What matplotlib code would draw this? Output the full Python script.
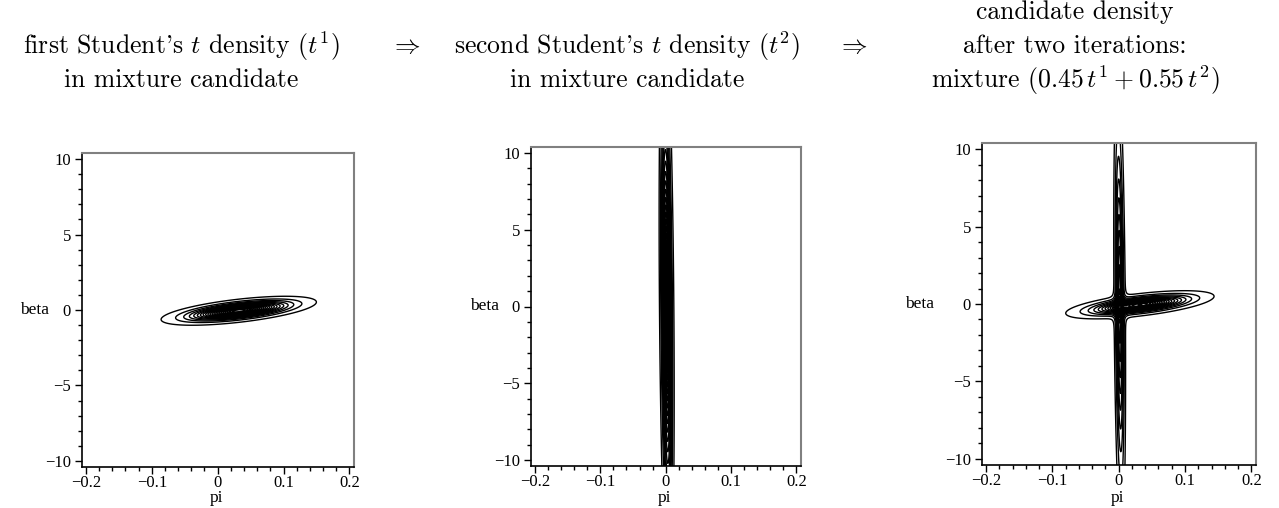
import numpy as np
import matplotlib
matplotlib.use('Agg')
import matplotlib.pyplot as plt
from matplotlib.ticker import MultipleLocator, FuncFormatter

plt.rcParams['mathtext.fontset'] = 'cm'

# parameters of the two Student's t components (pi, beta)
t1_mean = [0.032, -0.05]
t1_sd = [0.043, 0.35]
t1_rho = 0.6
t1_df = 3

t2_mean = [0.0015, 0.0]
t2_sd = [0.0042, 7.0]
t2_rho = -0.3
t2_df = 3

weights = [0.45, 0.55]

titles = [
    "first Student's $t$ density $(t^1)$\nin mixture candidate",
    "second Student's $t$ density $(t^2)$\nin mixture candidate",
    "candidate density\nafter two iterations:\nmixture $(0.45\\,t^1 + 0.55\\,t^2)$",
]
xticks = [-0.2, -0.1, 0, 0.1, 0.2]
yticks = [-10, -5, 0, 5, 10]


def tdens(P, B, mean, sd, rho, df):
    u = (P - mean[0]) / sd[0]
    v = (B - mean[1]) / sd[1]
    d2 = (u * u - 2 * rho * u * v + v * v) / (1 - rho ** 2)
    det = sd[0] * sd[1] * np.sqrt(1 - rho ** 2)
    return (1 + d2 / df) ** (-(df + 2) / 2) / (2 * np.pi * det)


p = np.linspace(-0.21, 0.21, 1400)
b = np.linspace(-10.5, 10.5, 900)
P, B = np.meshgrid(p, b)
Z1 = tdens(P, B, t1_mean, t1_sd, t1_rho, t1_df)
Z2 = tdens(P, B, t2_mean, t2_sd, t2_rho, t2_df)
Zm = weights[0] * Z1 + weights[1] * Z2

W, H = 1279, 508
fig = plt.figure(figsize=(W / 100, H / 100), dpi=100)

boxes = [(82, 354, 153, 467), (531, 801, 147, 466), (982, 1256, 143, 465)]
title_x = [181, 627, 1075]
beta_x = [35, 485, 920]


def fmt(v, pos):
    s = '%g' % round(v, 3)
    return s.replace('-', '\u2212')


for i, Z in enumerate([Z1, Z2, Zm]):
    l, r, t, bt = boxes[i]
    ax = fig.add_axes([l / W, 1 - bt / H, (r - l) / W, (bt - t) / H])
    levels = np.linspace(0, Z.max(), 24)[1:-1]
    ax.contour(P, B, Z, levels=levels, colors='black', linewidths=1.0)
    ax.set_xlim(-0.206, 0.207)
    ax.set_ylim(-10.4, 10.4)
    ax.xaxis.set_major_locator(MultipleLocator(0.1))
    ax.xaxis.set_minor_locator(MultipleLocator(0.02))
    ax.yaxis.set_major_locator(MultipleLocator(5))
    ax.yaxis.set_minor_locator(MultipleLocator(1))
    ax.xaxis.set_major_formatter(FuncFormatter(fmt))
    ax.yaxis.set_major_formatter(FuncFormatter(fmt))
    ax.tick_params(which='major', direction='out', length=5, width=1,
                   labelsize=12)
    ax.tick_params(axis='x', which='major', pad=1)
    ax.tick_params(axis='y', which='major', pad=3)
    ax.tick_params(which='minor', direction='out', length=3, width=1)
    for lab in ax.get_xticklabels() + ax.get_yticklabels():
        lab.set_family('Liberation Serif')
    for s in ['left', 'bottom']:
        ax.spines[s].set_color('black')
        ax.spines[s].set_linewidth(1.2)
    for s in ['top', 'right']:
        ax.spines[s].set_color('#808080')
        ax.spines[s].set_linewidth(1.5)
    fig.text(((l + r) / 2 - 1) / W, 1 - 498 / H, 'pi',
             family='Liberation Serif', fontsize=12.5, ha='center', va='center')
    fig.text(beta_x[i] / W, 1 - ((t + bt) / 2) / H, 'beta',
             family='Liberation Serif', fontsize=12.5, ha='center', va='center')

    # title
    lines = titles[i].split('\n')
    ys = [80, 46] if len(lines) == 2 else [80, 46, 12]
    for txt, y in zip(lines[::-1], ys):
        fig.text(title_x[i] / W, 1 - y / H, txt, family='cmr10', fontsize=18.5,
                 ha='center', va='center')

for x in [405, 852]:
    fig.text(x / W, 1 - 46 / H, r'$\Rightarrow$', fontsize=18.5,
             ha='center', va='center')

fig.savefig('out.png', dpi=100)
